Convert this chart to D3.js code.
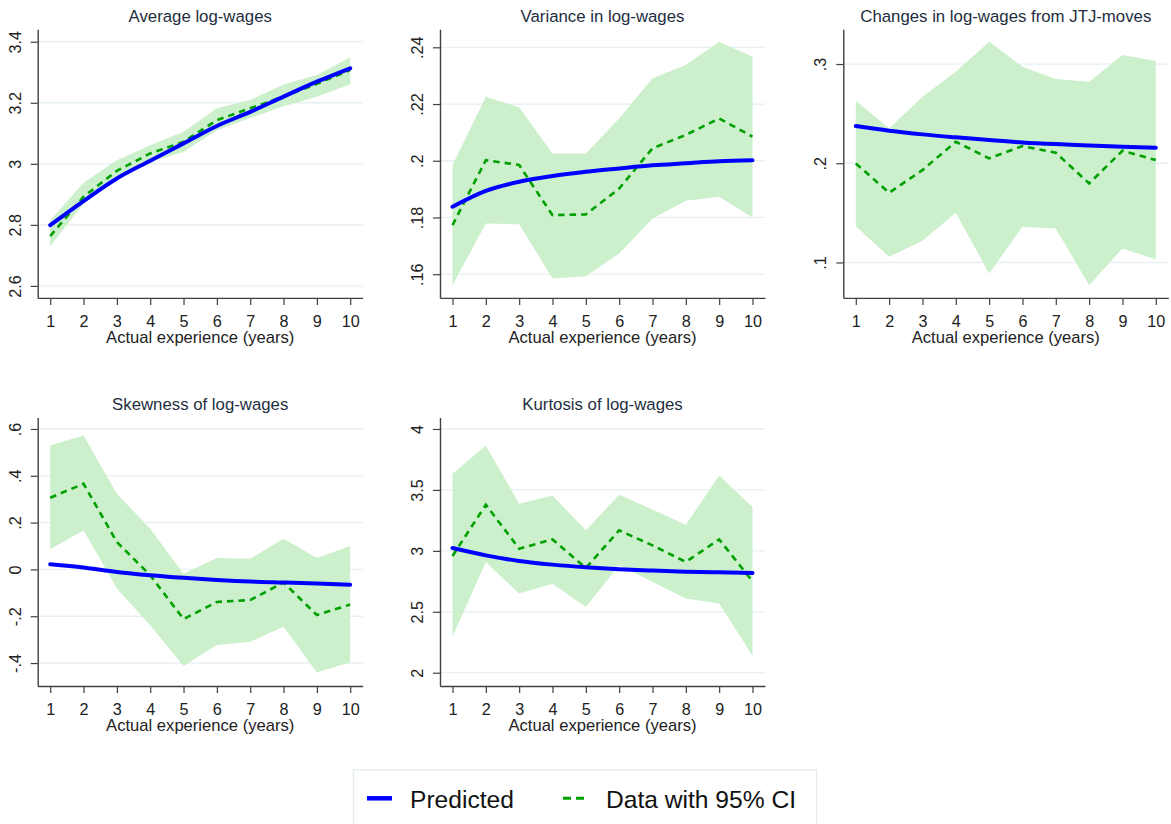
<!DOCTYPE html>
<html>
<head>
<meta charset="utf-8">
<script src="https://cdn.jsdelivr.net/npm/d3@7"></script>
<style>
  body { margin: 0; background: #fff; }
  svg { display: block; font-family: "Liberation Sans", Arial, sans-serif; }
</style>
</head>
<body>
<script>
// x axis: years of actual experience
const experience = [1, 2, 3, 4, 5, 6, 7, 8, 9, 10];
const xTickLabels = ["1", "2", "3", "4", "5", "6", "7", "8", "9", "10"];
const xTitle = "Actual experience (years)";

// Average log-wages
const avgPred = [2.799, 2.878, 2.952, 3.010, 3.067, 3.124, 3.170, 3.220, 3.269, 3.313];
const avgData = [2.763, 2.892, 2.977, 3.034, 3.072, 3.143, 3.182, 3.220, 3.262, 3.307];
const avgLo   = [2.730, 2.870, 2.947, 3.007, 3.039, 3.110, 3.150, 3.189, 3.220, 3.261];
const avgHi   = [2.815, 2.938, 3.012, 3.061, 3.105, 3.182, 3.209, 3.260, 3.291, 3.349];
const avgTicks = [2.6, 2.8, 3, 3.2, 3.4];
const avgTickLabels = ["2.6", "2.8", "3", "3.2", "3.4"];

// Variance in log-wages
const varPred = [0.1838, 0.1894, 0.1926, 0.1946, 0.1961, 0.1973, 0.1984, 0.1991, 0.1998, 0.2002];
const varData = [0.1773, 0.2002, 0.1985, 0.1808, 0.1811, 0.1902, 0.2044, 0.2091, 0.2149, 0.2085];
const varLo   = [0.1561, 0.1779, 0.1776, 0.1585, 0.1593, 0.1673, 0.1796, 0.1859, 0.1873, 0.1800];
const varHi   = [0.1985, 0.2226, 0.2188, 0.2026, 0.2026, 0.2149, 0.2291, 0.2338, 0.2420, 0.2367];
const varTicks = [0.16, 0.18, 0.2, 0.22, 0.24];
const varTickLabels = [".16", ".18", ".2", ".22", ".24"];

// Changes in log-wages from JTJ-moves
const jtjPred = [0.2375, 0.2328, 0.2291, 0.2261, 0.2234, 0.2210, 0.2193, 0.2180, 0.2166, 0.2156];
const jtjData = [0.1998, 0.1703, 0.1931, 0.2217, 0.2049, 0.2173, 0.2106, 0.1797, 0.2126, 0.2032];
const jtjLo   = [0.1366, 0.1057, 0.1218, 0.1501, 0.0889, 0.1360, 0.1343, 0.0771, 0.1141, 0.1030];
const jtjHi   = [0.2630, 0.2351, 0.2671, 0.2923, 0.3225, 0.2973, 0.2849, 0.2822, 0.3091, 0.3030];
const jtjTicks = [0.1, 0.2, 0.3];
const jtjTickLabels = [".1", ".2", ".3"];

// Skewness of log-wages
const skewPred = [0.022, 0.008, -0.011, -0.025, -0.036, -0.045, -0.052, -0.056, -0.060, -0.065];
const skewData = [0.306, 0.366, 0.117, -0.025, -0.212, -0.139, -0.131, -0.056, -0.195, -0.150];
const skewLo   = [0.086, 0.167, -0.082, -0.238, -0.413, -0.323, -0.309, -0.245, -0.440, -0.397];
const skewHi   = [0.529, 0.572, 0.323, 0.174, -0.018, 0.049, 0.046, 0.131, 0.049, 0.100];
const skewTicks = [-0.4, -0.2, 0, 0.2, 0.4, 0.6];
const skewTickLabels = ["-.4", "-.2", "0", ".2", ".4", ".6"];

// Kurtosis of log-wages
const kurtPred = [3.023, 2.963, 2.917, 2.887, 2.865, 2.849, 2.838, 2.829, 2.824, 2.819];
const kurtData = [2.958, 3.378, 3.018, 3.094, 2.859, 3.168, 3.045, 2.909, 3.094, 2.750];
const kurtLo   = [2.295, 2.909, 2.649, 2.731, 2.540, 2.881, 2.745, 2.608, 2.568, 2.139];
const kurtHi   = [3.632, 3.864, 3.386, 3.454, 3.168, 3.460, 3.340, 3.214, 3.618, 3.359];
const kurtTicks = [2, 2.5, 3, 3.5, 4];
const kurtTickLabels = ["2", "2.5", "3", "3.5", "4"];

const legendLabels = ["Predicted", "Data with 95% CI"];

const W = 1171, H = 824;
const plotW = 325, plotH = 268.6;
const blue = "#0000ff", green = "#00a000", band = "#ccefcc";

// one entry per panel: data + where the plot box sits
const panels = [
  { title: "Average log-wages", pred: avgPred, data: avgData, lo: avgLo, hi: avgHi,
    ticks: avgTicks, labels: avgTickLabels, ydom: [2.5607, 3.4407], left: 37.7, top: 29.3 },
  { title: "Variance in log-wages", pred: varPred, data: varData, lo: varLo, hi: varHi,
    ticks: varTicks, labels: varTickLabels, ydom: [0.15164, 0.24635], left: 440, top: 29.3 },
  { title: "Changes in log-wages from JTJ-moves", pred: jtjPred, data: jtjData, lo: jtjLo, hi: jtjHi,
    ticks: jtjTicks, labels: jtjTickLabels, ydom: [0.0643, 0.335], left: 843.3, top: 29.3 },
  { title: "Skewness of log-wages", pred: skewPred, data: skewData, lo: skewLo, hi: skewHi,
    ticks: skewTicks, labels: skewTickLabels, ydom: [-0.498, 0.6494], left: 37.7, top: 417.4 },
  { title: "Kurtosis of log-wages", pred: kurtPred, data: kurtData, lo: kurtLo, hi: kurtHi,
    ticks: kurtTicks, labels: kurtTickLabels, ydom: [1.891, 4.095], left: 440, top: 417.4 }
];

const svg = d3.select("body").append("svg")
  .attr("width", W)
  .attr("height", H);

svg.append("rect").attr("width", W).attr("height", H).attr("fill", "#fff");

panels.forEach(function (p) {
  const g = svg.append("g").attr("transform", `translate(${p.left},${p.top})`);

  const x = d3.scaleLinear().domain([0.625, 10.375]).range([0, plotW]);
  const y = d3.scaleLinear().domain(p.ydom).range([plotH, 0]);

  // grid lines
  g.append("g").selectAll("line")
    .data(p.ticks)
    .enter()
    .append("line")
    .attr("x1", 0)
    .attr("x2", plotW)
    .attr("y1", d => y(d))
    .attr("y2", d => y(d))
    .attr("stroke", "#e6eff1")
    .attr("stroke-width", 1.3);

  const rows = experience.map((e, i) => ({ x: e, pred: p.pred[i], data: p.data[i], lo: p.lo[i], hi: p.hi[i] }));

  // 95% CI band
  g.append("path")
    .datum(rows)
    .attr("d", d3.area().x(d => x(d.x)).y0(d => y(d.lo)).y1(d => y(d.hi)))
    .attr("fill", band);

  // data (dashed)
  g.append("path")
    .datum(rows)
    .attr("d", d3.line().x(d => x(d.x)).y(d => y(d.data)))
    .attr("fill", "none")
    .attr("stroke", green)
    .attr("stroke-width", 2.6)
    .attr("stroke-dasharray", "6.5,5");

  // predicted
  g.append("path")
    .datum(rows)
    .attr("d", d3.line().curve(d3.curveMonotoneX).x(d => x(d.x)).y(d => y(d.pred)))
    .attr("fill", "none")
    .attr("stroke", blue)
    .attr("stroke-width", 4)
    .attr("stroke-linecap", "round");

  // y axis, labels turned like Stata does
  const yAxis = g.append("g")
    .call(d3.axisLeft(y).tickValues(p.ticks).tickSize(7).tickSizeOuter(0)
      .tickFormat((d, i) => p.labels[i]));
  yAxis.selectAll("text")
    .attr("x", null)
    .attr("dy", null)
    .attr("text-anchor", "middle")
    .attr("transform", "translate(-17,0) rotate(-90)");

  // x axis
  const xAxis = g.append("g")
    .attr("transform", `translate(0,${plotH})`)
    .call(d3.axisBottom(x).tickValues(experience).tickSize(7).tickSizeOuter(0).tickPadding(10.5)
      .tickFormat((d, i) => xTickLabels[i]));

  [yAxis, xAxis].forEach(function (a) {
    a.select(".domain").attr("stroke", "#404040").attr("stroke-width", 1.4);
    a.selectAll(".tick line").attr("stroke", "#404040").attr("stroke-width", 1.2);
    a.selectAll("text").attr("font-size", 16.2).attr("fill", "#222");
  });

  g.append("text")
    .attr("x", plotW / 2)
    .attr("y", plotH + 45)
    .attr("text-anchor", "middle")
    .attr("font-size", 16.6)
    .attr("fill", "#222")
    .text(xTitle);

  g.append("text")
    .attr("x", plotW / 2)
    .attr("y", -7.6)
    .attr("text-anchor", "middle")
    .attr("font-size", 16.8)
    .attr("fill", "#1e2e40")
    .text(p.title);
});

// legend
const leg = svg.append("g");
leg.append("rect")
  .attr("x", 353.5).attr("y", 770)
  .attr("width", 463).attr("height", 70)
  .attr("fill", "#fff")
  .attr("stroke", "#e3eced")
  .attr("stroke-width", 1.3);

leg.append("line")
  .attr("x1", 367).attr("x2", 392)
  .attr("y1", 798.3).attr("y2", 798.3)
  .attr("stroke", blue).attr("stroke-width", 4.5);
leg.append("text")
  .attr("x", 410).attr("y", 807.5)
  .attr("font-size", 24.6)
  .attr("fill", "#111")
  .text(legendLabels[0]);

leg.append("line")
  .attr("x1", 563).attr("x2", 584)
  .attr("y1", 798.3).attr("y2", 798.3)
  .attr("stroke", green).attr("stroke-width", 3)
  .attr("stroke-dasharray", "8,5");
leg.append("text")
  .attr("x", 606).attr("y", 807.5)
  .attr("font-size", 24.6)
  .attr("fill", "#111")
  .text(legendLabels[1]);
</script>
</body>
</html>
